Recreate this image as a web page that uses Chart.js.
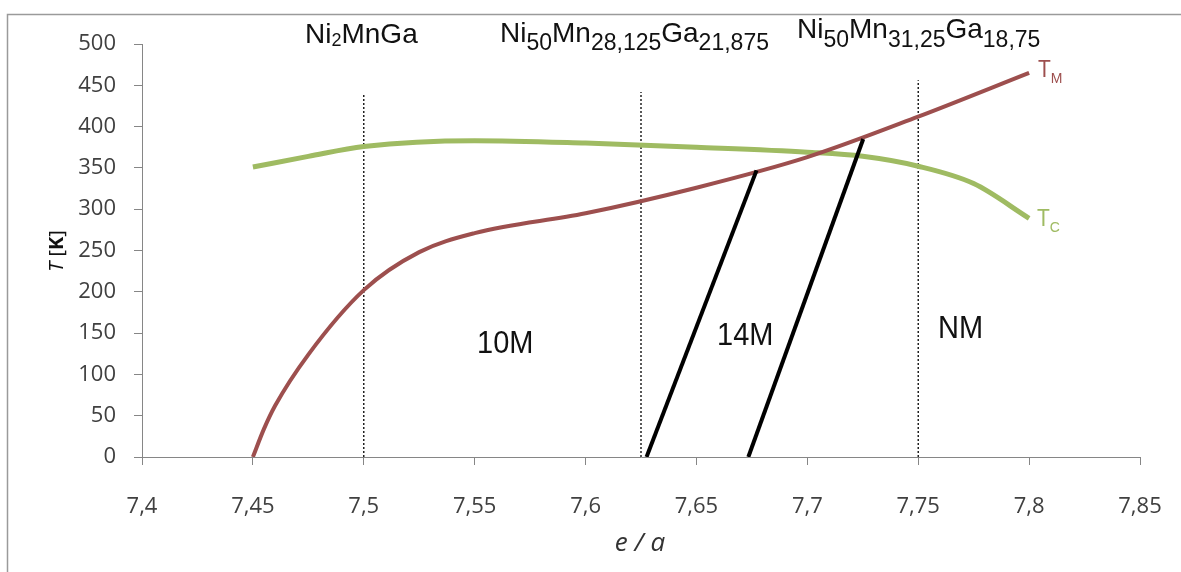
<!DOCTYPE html>
<html>
<head>
<meta charset="utf-8">
<script src="https://cdn.jsdelivr.net/npm/chart.js@4"></script>
<style>
  html, body { margin: 0; padding: 0; background: #fff; }
  canvas { display: block; }
</style>
</head>
<body>
<canvas id="phaseChart" width="1181" height="572"></canvas>
<script>
// values
const eaTM = [7.45, 7.455, 7.46, 7.475, 7.5, 7.525, 7.55, 7.6, 7.65, 7.7, 7.75, 7.8];
const tmK  = [0, 34, 62, 124, 202, 248, 271, 295, 326, 363, 412, 465];

const eaTC = [7.45, 7.475, 7.5, 7.55, 7.6, 7.65, 7.7, 7.725, 7.75, 7.775, 7.8];
const tcK  = [351, 364, 376, 383, 380, 375, 369, 364, 352, 331, 289];

// 10M/14M and 14M/NM boundaries
const bound1Ea = [7.6275, 7.6771];
const bound1K  = [0, 347];
const bound2Ea = [7.6734, 7.7252];
const bound2K  = [0, 385];

// compositions marked with dotted lines
const compEa  = [7.5, 7.625, 7.75];
const compTop = [440, 442, 456];

const xMin = 7.4, xMax = 7.85, xStep = 0.05;
const yMin = 0, yMax = 500, yStep = 50;

const pts = (xs, ys) => xs.map((x, i) => ({ x: x, y: ys[i] }));

const TM_COLOR = '#9d4f4e';
const TC_COLOR = '#9fbb62';
const AXIS_GREY = '#868686';
const TICK_TEXT = '#404040';

function richText(ctx, x, y, parts, size, subSize, drop, color, stretch) {
  ctx.save();
  ctx.fillStyle = color;
  ctx.textBaseline = 'alphabetic';
  ctx.textAlign = 'left';
  ctx.translate(x, y);
  ctx.scale(1, stretch || 1);
  let cx = 0;
  parts.forEach(p => {
    const sub = p[1];
    ctx.font = (sub ? subSize : size) + 'px "Liberation Sans", Arial, sans-serif';
    ctx.fillText(p[0], cx, sub ? drop : 0);
    cx += ctx.measureText(p[0]).width;
  });
  ctx.restore();
}

const decor = {
  id: 'decor',
  beforeDraw(chart) {
    const ctx = chart.ctx;
    ctx.save();
    ctx.fillStyle = '#fff';
    ctx.fillRect(0, 0, chart.width, chart.height);
    ctx.strokeStyle = '#9a9a9a';
    ctx.lineWidth = 1.5;
    ctx.beginPath();
    ctx.moveTo(7.5, chart.height + 5);
    ctx.lineTo(7.5, 14.5);
    ctx.lineTo(chart.width + 5, 14.5);
    ctx.stroke();
    ctx.restore();
  },
  afterDraw(chart) {
    const ctx = chart.ctx;

    // compositions along the top
    richText(ctx, 305, 43, [['Ni'], ['2', 1], ['MnGa']], 28, 18, 3, '#111');
    richText(ctx, 500, 42, [['Ni'], ['50', 1], ['Mn'], ['28,125', 1], ['Ga'], ['21,875', 1]], 28, 23, 8, '#111');
    richText(ctx, 797, 38, [['Ni'], ['50', 1], ['Mn'], ['31,25', 1], ['Ga'], ['18,75', 1]], 28, 23, 9, '#111');

    // phase regions
    richText(ctx, 477, 353, [['10M']], 29, 0, 0, '#111', 1.1);
    richText(ctx, 717, 345, [['14M']], 29, 0, 0, '#111', 1.1);
    richText(ctx, 938, 338, [['NM']], 29, 0, 0, '#111', 1.1);

    // curve labels
    richText(ctx, 1038, 77, [['T'], ['M', 1]], 21, 14, 5, TM_COLOR, 1.1);
    richText(ctx, 1037, 226, [['T'], ['C', 1]], 21, 14, 5, TC_COLOR, 1.1);

    // y axis title: italic T, bold K
    ctx.save();
    ctx.translate(57, 251);
    ctx.rotate(-Math.PI / 2);
    ctx.fillStyle = '#111';
    ctx.textBaseline = 'middle';
    ctx.textAlign = 'left';
    const yParts = [['T', 'italic 400'], [' [', '400'], ['K', 'bold'], [']', '400']];
    let w = 0;
    yParts.forEach(p => { ctx.font = p[1] + ' 20px "Open Sans", sans-serif'; w += ctx.measureText(p[0]).width; });
    let cx = -w / 2;
    yParts.forEach(p => { ctx.font = p[1] + ' 20px "Open Sans", sans-serif'; ctx.fillText(p[0], cx, 0); cx += ctx.measureText(p[0]).width; });
    ctx.restore();

    // x axis title
    ctx.save();
    ctx.fillStyle = '#333';
    ctx.font = 'italic 26px "Open Sans", sans-serif';
    ctx.textBaseline = 'alphabetic';
    ctx.textAlign = 'center';
    ctx.fillText('e / a', 640, 551);
    ctx.restore();
  }
};

const dotted = compEa.map((ea, i) => ({
  data: pts([ea, ea], [0, compTop[i]]),
  borderColor: '#000',
  borderWidth: 1.3,
  borderDash: [2, 2],
  pointRadius: 0
}));

new Chart(document.getElementById('phaseChart'), {
  type: 'line',
  data: {
    datasets: [
      { data: pts(bound1Ea, bound1K), borderColor: '#000', borderWidth: 4, pointRadius: 0 },
      { data: pts(bound2Ea, bound2K), borderColor: '#000', borderWidth: 4, pointRadius: 0 },
      { data: pts(eaTM, tmK), borderColor: TM_COLOR, borderWidth: 4, pointRadius: 0, cubicInterpolationMode: 'monotone' },
      { data: pts(eaTC, tcK), borderColor: TC_COLOR, borderWidth: 5, pointRadius: 0, cubicInterpolationMode: 'monotone' }
    ].concat(dotted)
  },
  options: {
    responsive: false,
    animation: false,
    layout: { padding: { left: 0, right: 41, top: 44, bottom: 0 } },
    plugins: { legend: { display: false }, tooltip: { enabled: false } },
    scales: {
      x: {
        type: 'linear',
        min: xMin, max: xMax,
        afterFit(s) { s.height = 115; s.paddingLeft = 0; s.paddingRight = 0; },
        grid: { drawOnChartArea: false, drawTicks: true, tickLength: 8, color: AXIS_GREY },
        border: { color: AXIS_GREY, width: 1 },
        ticks: {
          stepSize: xStep,
          padding: 29,
          color: TICK_TEXT,
          font: { family: '"Open Sans", sans-serif', size: 22 },
          callback: v => String(Math.round(v * 100) / 100).replace('.', ',')
        }
      },
      y: {
        min: yMin, max: yMax,
        afterFit(s) { s.width = 142; s.paddingTop = 0; s.paddingBottom = 0; },
        grid: { drawOnChartArea: false, drawTicks: true, tickLength: 8, color: AXIS_GREY },
        border: { color: AXIS_GREY, width: 1 },
        ticks: {
          stepSize: yStep,
          padding: 18,
          color: TICK_TEXT,
          font: { family: '"Open Sans", sans-serif', size: 22 }
        }
      }
    }
  },
  plugins: [decor]
});
</script>
</body>
</html>
